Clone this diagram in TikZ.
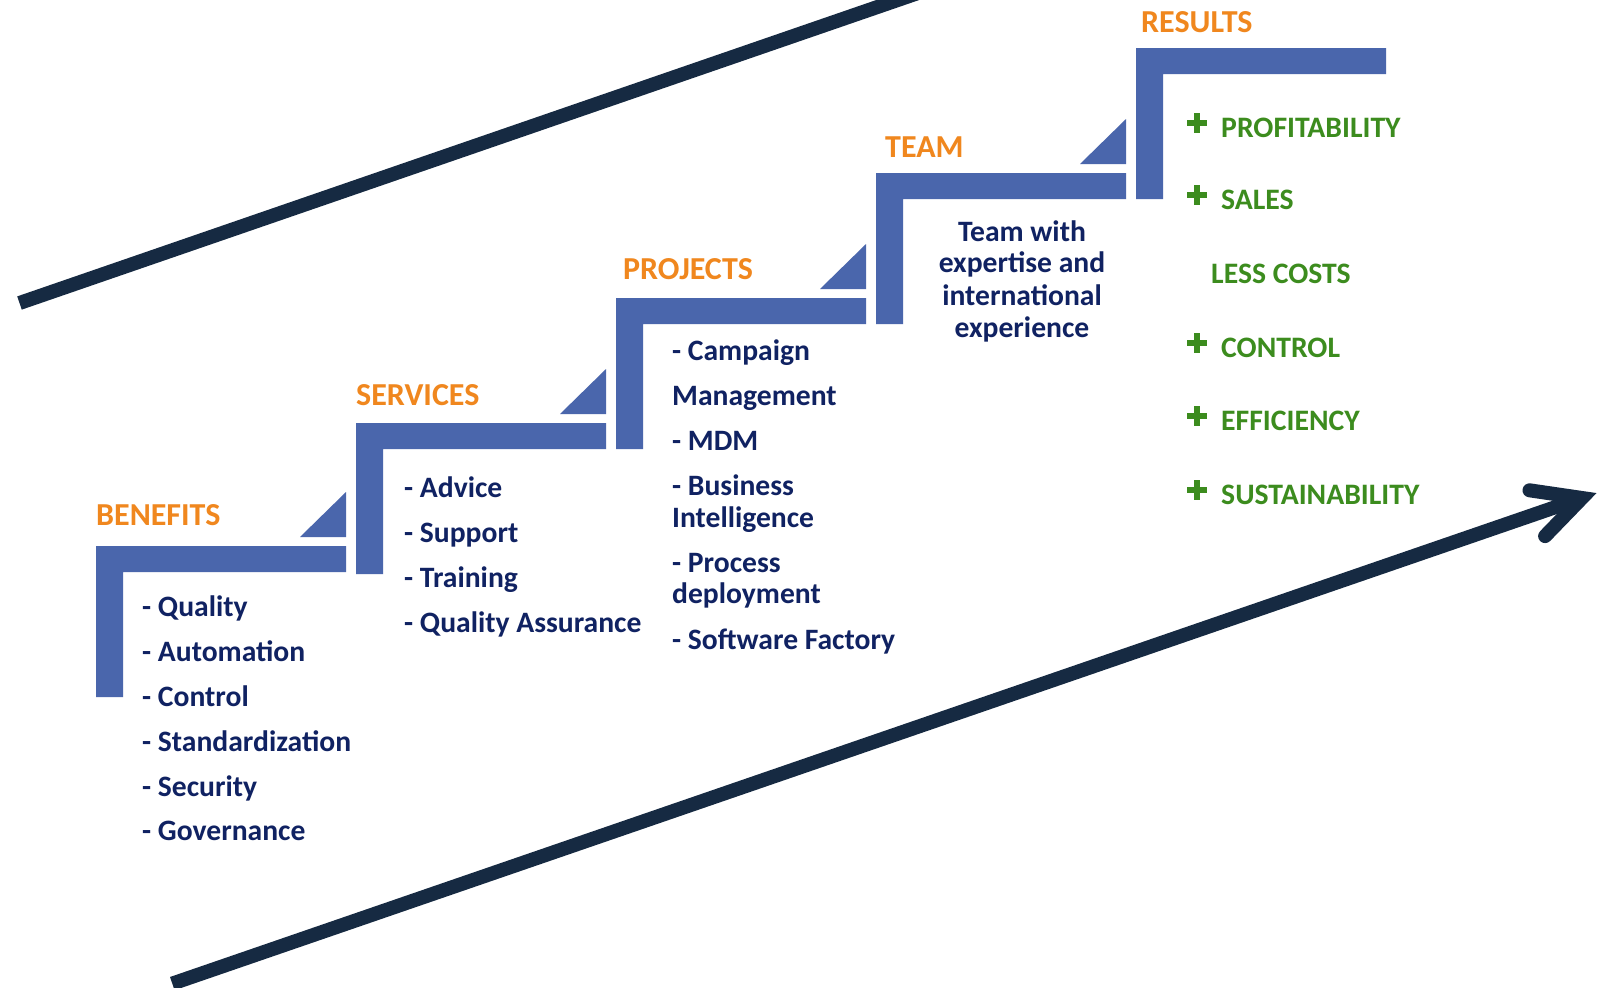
\documentclass[tikz,border=0pt]{standalone}
\usepackage{fontspec}
\setmainfont{Carlito}
\definecolor{stairblue}{RGB}{74,102,172}
\definecolor{linenavy}{RGB}{22,42,66}
\definecolor{titleorange}{RGB}{240,135,30}
\definecolor{textnavy}{RGB}{16,34,98}
\definecolor{resgreen}{RGB}{60,140,30}
\tikzset{
  stairshape/.style={fill=stairblue, draw=none},
  title/.style={anchor=base west, inner sep=0pt, text=titleorange, font=\fontsize{32}{38}\selectfont\bfseries},
  item/.style={anchor=base west, inner sep=0pt, text=textnavy, font=\fontsize{29.6}{35}\selectfont\bfseries},
  teamtext/.style={anchor=base, inner sep=0pt, text=textnavy, font=\fontsize{29.6}{35}\selectfont\bfseries},
  result/.style={anchor=base west, inner sep=0pt, text=resgreen, font=\fontsize{29.7}{35}\selectfont\bfseries},
  plusmark/.style={draw=resgreen, line width=6pt},
  bigline/.style={draw=linenavy, line width=14pt},
}
\begin{document}
\begin{tikzpicture}[x=1pt,y=-1pt]
\useasboundingbox (0,0) rectangle (1607,988);
\clip (0,0) rectangle (1607,988);
\fill[white] (0,0) rectangle (1607,988);

% big lines
\coordinate (topA) at (19.5,303);
\coordinate (topB) at (1019.5,-42);
\draw[bigline] (topA) -- (topB);
\coordinate (arS) at (172.3,983.6);
\coordinate (arV) at (1582,498);
\coordinate (arU) at (1529.5,490.3);
\coordinate (arL) at (1545.1,536.1);
\draw[bigline] (arS) -- (arV);
\draw[bigline, line cap=round, line join=miter] (arU) -- (arV) -- (arL);

% stairs
\foreach \i/\L/\T in {0/96/546, 1/356/423, 2/616/298, 3/876/173, 4/1136/48}{
  \fill[stairshape] (\L,\T) -- (\L+250,\T) -- (\L+250,\T+26) -- (\L+27,\T+26)
     -- (\L+27,\T+151) -- (\L,\T+151) -- cycle;
}
\foreach \L/\T in {96/546, 356/423, 616/298, 876/173}{
  \fill[stairshape] (\L+204,\T-9) -- (\L+250,\T-9) -- (\L+250,\T-54) -- cycle;
}

% titles
\node[title] (tBen) at (96,525) {BENEFITS};
\node[title] (tSer) at (356,405.5) {SERVICES};
\node[title] (tPro) at (623,279.5) {PROJECTS};
\node[title] (tTeam) at (885,157.5) {TEAM};
\node[title] (tRes) at (1141,32) {RESULTS};

% benefits list
\node[item] (b1) at (142,616.5) {- Quality};
\node[item] (b2) at (142,661.5) {- Automation};
\node[item] (b3) at (142,706.5) {- Control};
\node[item] (b4) at (142,751.5) {- Standardization};
\node[item] (b5) at (142,796.5) {- Security};
\node[item] (b6) at (142,840.5) {- Governance};

% services list
\node[item] (s1) at (404,497.5) {- Advice};
\node[item] (s2) at (404,542.5) {- Support};
\node[item] (s3) at (404,587.5) {- Training};
\node[item] (s4) at (404,632.5) {- Quality Assurance};

% projects list
\node[item] (p1) at (672,360.5) {- Campaign};
\node[item] (p2) at (672,405.5) {Management};
\node[item] (p3) at (672,450.5) {- MDM};
\node[item] (p4) at (672,495.5) {- Business};
\node[item] (p5) at (672,527.5) {Intelligence};
\node[item] (p6) at (672,572.5) {- Process};
\node[item] (p7) at (672,603.5) {deployment};
\node[item] (p8) at (672,649.5) {- Software Factory};

% team text
\node[teamtext] (m1) at (1022,241.5) {Team with};
\node[teamtext] (m2) at (1022,272.5) {expertise and};
\node[teamtext] (m3) at (1022,305.5) {international};
\node[teamtext] (m4) at (1022,337.5) {experience};

% results
\foreach \n/\y/\txt in {r1/137/PROFITABILITY, r2/209/SALES, r4/357/CONTROL, r5/430/EFFICIENCY, r6/504/SUSTAINABILITY}{
  \node[result] (\n) at (1221,\y) {\txt};
  \draw[plusmark] (1187,\y-14) -- (1207,\y-14);
  \draw[plusmark] (1197,\y-24) -- (1197,\y-4);
}
\node[result] (r3) at (1211,283) {LESS COSTS};
\end{tikzpicture}
\end{document}
